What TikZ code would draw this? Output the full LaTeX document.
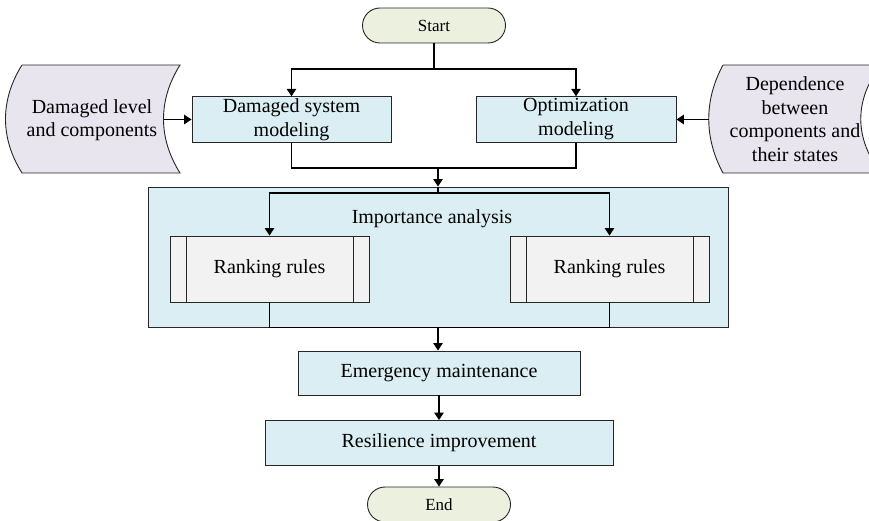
\documentclass[tikz,border=0pt]{standalone}
\usepackage{fontspec}
\setmainfont{Liberation Serif}
\usetikzlibrary{arrows.meta}

\definecolor{procfill}{HTML}{DBEEF3}
\definecolor{rankfill}{HTML}{F2F2F2}
\definecolor{termfill}{HTML}{EBF1DE}
\definecolor{datafill}{HTML}{E9E5EF}
\definecolor{boxline}{HTML}{262626}

\begin{document}
\begin{tikzpicture}[x=1pt,y=-1pt,
  boxbase/.style={draw=boxline, line width=0.9pt, inner sep=0pt, align=center,
    font=\fontsize{20}{24}\selectfont},
  procbox/.style={boxbase, fill=procfill},
  rankbox/.style={boxbase, fill=rankfill, minimum width=199pt, minimum height=66pt},
  termbox/.style={boxbase, fill=termfill, rounded corners=17.5pt,
    minimum width=143pt, minimum height=35pt, font=\fontsize{17}{20}\selectfont},
  datashape/.style={draw=boxline, line width=0.9pt, fill=datafill},
  label/.style={inner sep=0pt, align=center, font=\fontsize{20}{23.5}\selectfont},
  link/.style={draw=black, line width=1.3pt},
  arr/.style={link, -{Triangle[width=9.5pt,length=7.5pt]}},
]
\useasboundingbox (0,0) rectangle (869,521);

% terminals
\node[termbox] (start) at (434,25.5) {Start};
\node[termbox] (end) at (439,504.5) {End};

% modeling steps
\node[procbox, minimum width=199pt, minimum height=45.5pt] (dsm) at (291.5,119.5)
  {Damaged system\\modeling};
\node[procbox, minimum width=200pt, minimum height=45.5pt] (om) at (576,119.5)
  {Optimization\\modeling};

% input data shapes
\draw[datashape] (22,65) -- (180,65) .. controls (158,100) and (158,138) .. (180,173)
  -- (22,173) .. controls (0,138) and (0,100) .. (22,65);
\node[label] (dlc) at (92,120) {Damaged level\\and components};
\coordinate (dlc-out) at (163.5,119.5);

\begin{scope}
  \clip (0,0) rectangle (869,521);
  \draw[datashape] (723,65) -- (881,65) .. controls (854,100) and (854,138) .. (881,173)
    -- (723,173) .. controls (704,138) and (704,100) .. (723,65);
\end{scope}
\node[label] (dep) at (795,119) {Dependence\\between\\components and\\their states};
\coordinate (dep-out) at (708.75,119.5);

% importance analysis group
\node[procbox, minimum width=580pt, minimum height=140pt] (imp) at (438,257) {};
\node[label] (impt) at (432,219) {Importance analysis};

% later steps
\node[procbox, minimum width=282pt, minimum height=44pt] (em) at (439,373)
  {Emergency maintenance};
\node[procbox, minimum width=348pt, minimum height=45pt] (ri) at (439,443)
  {Resilience improvement};

% branch points
\coordinate (split1) at (434,69);
\coordinate (join1) at (438,168);
\coordinate (split2) at (438,193);
\coordinate (join2) at (438,327.3);

% connectors: top section
\draw[link] (start.south) -- (split1);
\draw[arr] (split1) -| (dsm.north);
\draw[arr] (split1) -| (om.north);
\draw[arr] (dlc-out) -- (dsm.west);
\draw[arr] (dep-out) -- (om.east);
\draw[link] (dsm.south) |- (join1);
\draw[link] (om.south) |- (join1);
\draw[arr] (join1) -- (join1 |- imp.north);

% connectors inside the group
\draw[link] (imp.north -| split2) -- (split2);
\node[rankbox] (rr1) at (269.5,269) {Ranking rules};
\node[rankbox] (rr2) at (609.5,269) {Ranking rules};
\draw[arr] (split2) -| (rr1.north);
\draw[arr] (split2) -| (rr2.north);
\foreach \r in {rr1,rr2}{
  \draw[boxline, line width=0.8pt] ([xshift=16.5pt]\r.north west) -- ([xshift=16.5pt]\r.south west);
  \draw[boxline, line width=0.8pt] ([xshift=-16.5pt]\r.north east) -- ([xshift=-16.5pt]\r.south east);
}
\draw[link] (rr1.south) |- (join2);
\draw[link] (rr2.south) |- (join2);

% connectors: bottom section
\draw[arr] (join2) -- (join2 |- em.north);
\draw[arr] (em.south) -- (ri.north);
\draw[arr] (ri.south) -- (end.north);
\end{tikzpicture}
\end{document}
